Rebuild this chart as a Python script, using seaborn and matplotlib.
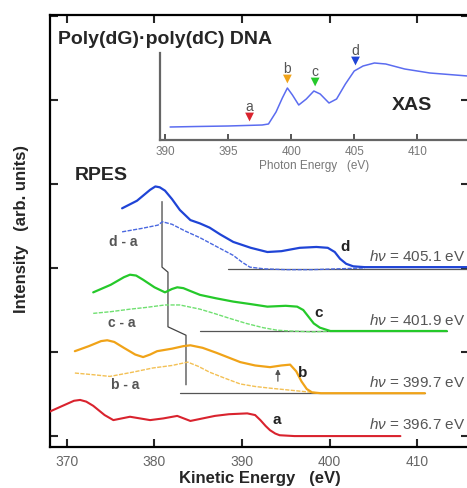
import matplotlib
matplotlib.use("Agg")
import matplotlib.pyplot as plt
import numpy as np
import pandas as pd
import seaborn as sns

# ---- RPES spectra (kinetic energy in eV, intensity in arb. units, stacked) ----
d_x = [376.3, 378.0, 379.5, 380.1, 380.6, 381.2, 382.0, 382.9, 384.1, 385.2, 386.3, 387.5,
       389.0, 391.0, 392.9, 394.5, 396.6, 398.5, 399.8, 400.6, 401.2, 401.9, 402.7, 404.0, 415.9]
d_y = [2.71, 2.80, 2.93, 2.97, 2.96, 2.92, 2.82, 2.69, 2.57, 2.53, 2.48, 2.40,
       2.31, 2.24, 2.19, 2.20, 2.24, 2.25, 2.24, 2.19, 2.11, 2.05, 2.02, 2.01, 2.01]
da_x = [376.3, 378.5, 380.4, 380.9, 382.0, 383.5, 385.2, 387.0, 389.0, 390.0, 390.9, 392.5,
        395.0, 398.0, 401.0, 404.0]
da_y = [2.43, 2.47, 2.51, 2.55, 2.52, 2.44, 2.36, 2.26, 2.15, 2.07, 2.01, 1.99,
        1.98, 1.98, 1.99, 2.00]

c_x = [373.0, 375.0, 376.5, 377.2, 377.9, 378.7, 380.0, 381.2, 382.0, 382.6, 383.3, 384.0,
       385.2, 387.0, 389.0, 391.0, 392.9, 395.0, 396.3, 397.0, 397.6, 398.2, 398.9, 400.1, 413.4]
c_y = [1.71, 1.80, 1.89, 1.92, 1.91, 1.86, 1.77, 1.71, 1.75, 1.77, 1.76, 1.73,
       1.68, 1.64, 1.60, 1.57, 1.54, 1.55, 1.54, 1.50, 1.42, 1.34, 1.29, 1.25, 1.25]
ca_x = [373.0, 375.0, 377.2, 379.0, 381.2, 382.9, 385.2, 386.8, 388.6, 390.5, 392.4, 394.0,
        395.5, 398.0, 401.0]
ca_y = [1.46, 1.48, 1.51, 1.53, 1.56, 1.56, 1.51, 1.46, 1.40, 1.34, 1.29, 1.26,
        1.25, 1.24, 1.25]

b_x = [370.9, 372.5, 373.9, 374.6, 375.4, 376.5, 377.8, 378.7, 379.5, 380.3, 382.0, 383.3,
       384.1, 385.5, 387.1, 389.8, 391.5, 393.2, 394.5, 395.5, 396.2, 396.8, 397.4, 398.0,
       399.0, 410.9]
b_y = [1.01, 1.07, 1.13, 1.14, 1.12, 1.05, 0.97, 0.94, 0.97, 1.01, 1.04, 1.07,
       1.08, 1.05, 0.99, 0.88, 0.84, 0.82, 0.84, 0.85, 0.77, 0.65, 0.56, 0.52,
       0.51, 0.51]
ba_x = [370.9, 373.0, 374.9, 377.5, 379.8, 382.0, 383.8, 385.0, 386.3, 388.0, 389.8, 391.5,
        393.2, 396.1, 399.0]
ba_y = [0.75, 0.73, 0.71, 0.76, 0.81, 0.84, 0.88, 0.83, 0.76, 0.69, 0.62, 0.59,
        0.57, 0.54, 0.51]

a_x = [368.0, 369.5, 370.8, 371.5, 372.2, 373.0, 374.3, 375.3, 377.2, 379.5, 381.0, 382.6,
       384.1, 386.9, 388.5, 390.6, 391.5, 392.1, 392.7, 393.2, 393.8, 394.3, 396.0, 408.1]
a_y = [0.29, 0.36, 0.42, 0.43, 0.41, 0.36, 0.25, 0.19, 0.23, 0.19, 0.21, 0.24,
       0.18, 0.24, 0.26, 0.27, 0.25, 0.19, 0.12, 0.07, 0.03, 0.01, 0.00, 0.00]

# Constant-binding-energy guide and zero levels of the difference spectra
guide_x = [380.86, 380.86, 381.54, 381.54, 383.6, 383.6]
guide_y = [2.79, 2.01, 1.95, 1.30, 1.20, 0.61]
zero_start = [388.4, 385.2, 382.9]
zero_end = [415.9, 413.4, 410.9]
zero_level = [1.99, 1.25, 0.51]

# Photon energies and labels
peak_labels = ["a", "b", "c", "d"]
photon_energies = [396.7, 399.7, 401.9, 405.1]
peak_colors = ["#d9232e", "#f0a318", "#25c92a", "#1f44d6"]

# ---- XAS spectrum (photon energy in eV) ----
xas_x = [390.4, 392.5, 395.0, 397.7, 398.2, 398.8, 399.3, 399.7, 400.1, 400.6, 401.2, 401.8,
         402.3, 403.0, 403.6, 404.3, 405.0, 405.7, 406.6, 407.5, 409.0, 411.0, 414.0]
xas_y = [1.3, 1.35, 1.4, 1.5, 1.6, 2.8, 4.2, 5.2, 4.5, 3.5, 4.1, 4.9,
         4.6, 3.7, 4.1, 5.6, 6.9, 7.4, 7.7, 7.6, 7.1, 6.7, 6.4]
marker_y = [2.3, 6.1, 5.8, 7.9]

sns.set_theme(style="ticks")
plt.rcParams["font.family"] = ["Liberation Sans", "DejaVu Sans"]
plt.rcParams["mathtext.fontset"] = "custom"
plt.rcParams["mathtext.it"] = "Liberation Sans:italic"
plt.rcParams["mathtext.rm"] = "Liberation Sans"
plt.rcParams["lines.solid_joinstyle"] = "round"
plt.rcParams["lines.solid_capstyle"] = "round"

fig = plt.figure(figsize=(4.67, 4.88), dpi=100)
ax = fig.add_axes([50 / 467, 41 / 488, 419 / 467, 432 / 488])

spectra = [
    (a_x, a_y, "#d9232e", "-", 1.5),
    (ba_x, ba_y, "#f3c054", (0, (3, 1)), 1.0),
    (b_x, b_y, "#f0a318", "-", 1.6),
    (ca_x, ca_y, "#6fe070", (0, (3, 1)), 1.0),
    (c_x, c_y, "#25c92a", "-", 1.6),
    (da_x, da_y, "#4a68e0", (0, (3, 1)), 1.0),
    (d_x, d_y, "#1f44d6", "-", 1.6),
]

for x0, x1, y0 in zip(zero_start, zero_end, zero_level):
    ax.plot([x0, x1], [y0, y0], color="#555555", lw=0.9, zorder=1)

for xs, ys, col, ls, lw in spectra:
    df = pd.DataFrame({"energy": xs, "intensity": ys})
    sns.lineplot(data=df, x="energy", y="intensity", ax=ax, color=col, lw=lw,
                 linestyle=ls, sort=False, estimator=None, legend=False, zorder=3)

guide = pd.DataFrame({"energy": guide_x, "intensity": guide_y})
sns.lineplot(data=guide, x="energy", y="intensity", ax=ax, color="#444444", lw=0.9,
             sort=False, estimator=None, legend=False, zorder=2)

ax.set_xlim(368.06, 415.94)
ax.set_ylim(-0.13, 5.01)
ax.set_xticks([370, 380, 390, 400, 410])
ax.set_yticks([0, 1, 2, 3, 4, 5])
ax.set_yticklabels([])
ax.tick_params(direction="in", length=6, width=1.5, top=True, right=True,
               labelsize=10, labelcolor="#666666", pad=6)
for s in ax.spines.values():
    s.set_linewidth(1.6)
    s.set_color("black")
ax.set_xlabel("")
ax.set_ylabel("")

# Spectrum annotations
ax.text(376.4, 2.31, "d - a", fontsize=10, color="#555555", ha="center", va="center", fontweight="bold")
ax.text(376.3, 1.35, "c - a", fontsize=10, color="#555555", ha="center", va="center", fontweight="bold")
ax.text(376.6, 0.61, "b - a", fontsize=10, color="#555555", ha="center", va="center", fontweight="bold")
label_pos = [(394.0, 0.19), (396.9, 0.75), (398.7, 1.46), (401.8, 2.25)]
hv_y = [0.14, 0.64, 1.38, 2.14]
for lab, (lx, ly), e, hy in zip(peak_labels, label_pos, photon_energies, hv_y):
    ax.text(lx, ly, lab, fontsize=11, fontweight="bold", color="#222222", ha="center", va="center")
    ax.text(415.5, hy, rf"$h\nu$ = {e:.1f} eV", fontsize=11, color="#555555",
            ha="right", va="center")
ax.annotate("", xy=(394.1, 0.83), xytext=(394.1, 0.62),
            arrowprops=dict(arrowstyle="-|>", color="#555555", lw=0.9, mutation_scale=7))

fig.text(58 / 467, 1 - 40 / 488, "Poly(dG)\u00b7poly(dC) DNA", fontsize=14, fontweight="bold",
         ha="left", va="center")
fig.text(75 / 467, 1 - 175 / 488, "RPES", fontsize=14, fontweight="bold", ha="left", va="center")
fig.text(260 / 467, 5 / 488, "Kinetic Energy   (eV)", fontsize=12, fontweight="bold",
         ha="center", va="baseline")
fig.text(22 / 467, 1 - 229 / 488, "Intensity   (arb. units)", fontsize=12, fontweight="bold",
         ha="center", va="center", rotation=90)

# ---- XAS inset ----
ins = fig.add_axes([160 / 467, 1 - 140 / 488, 309 / 467, 87 / 488])
ins.patch.set_alpha(0)
xas = pd.DataFrame({"photon": xas_x, "absorption": xas_y})
sns.lineplot(data=xas, x="photon", y="absorption", ax=ins, color="#5b6cf0", lw=1.1,
             sort=False, estimator=None, legend=False)
marks = pd.DataFrame({"photon": photon_energies, "absorption": marker_y, "peak": peak_labels})
sns.scatterplot(data=marks, x="photon", y="absorption", hue="peak",
                palette=dict(zip(peak_labels, peak_colors)), marker="v", s=40,
                edgecolor="none", ax=ins, legend=False, zorder=4)
for lab, e, my in zip(peak_labels, photon_energies, marker_y):
    ins.text(e, my + 1.0, lab, fontsize=10, color="#555555", ha="center", va="center")
ins.text(409.6, 3.4, "XAS", fontsize=14, fontweight="bold", ha="center", va="center")
ins.set_xlim(389.6, 414.1)
ins.set_ylim(0, 8.7)
ins.set_xticks([390, 395, 400, 405, 410])
ins.set_yticks([])
ins.tick_params(direction="in", length=4, width=1.4, labelsize=8.5, labelcolor="#777777",
                color="#555555", pad=4)
ins.spines["top"].set_visible(False)
ins.spines["right"].set_visible(False)
for s in ("left", "bottom"):
    ins.spines[s].set_linewidth(1.6)
    ins.spines[s].set_color("#666666")
ins.set_xlabel("Photon Energy   (eV)", fontsize=8.5, color="#777777", labelpad=2)
ins.set_ylabel("")

fig.savefig("out.png", dpi=100)
